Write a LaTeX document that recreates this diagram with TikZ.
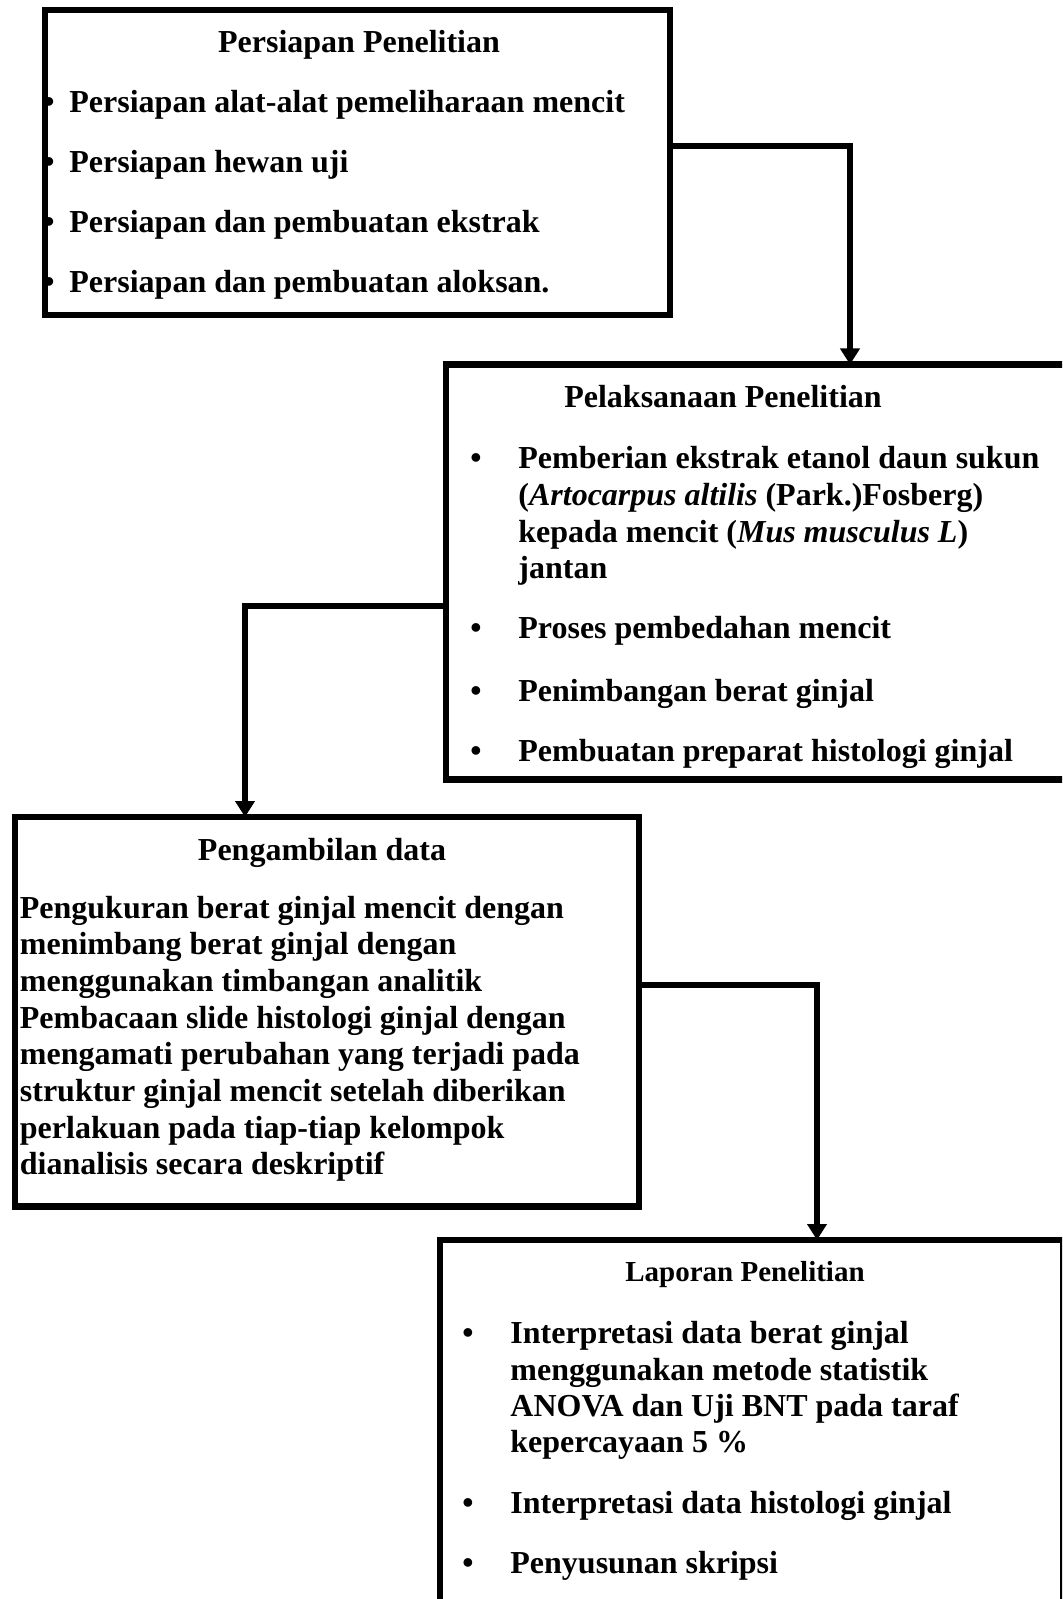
\documentclass[tikz,border=0pt]{standalone}
\usepackage{fontspec}
\setmainfont{Liberation Serif}
\usepackage{tikz}
\usetikzlibrary{arrows.meta, positioning, calc}
\tikzset{>={Triangle[width=9.5pt,length=8pt]}}

\begin{document}
\begin{tikzpicture}[x=0.5pt, y=-0.5pt,
    box/.style={draw, line width=3.25pt, inner sep=0pt, outer sep=0pt, anchor=north west},
    txt/.style={anchor=base west, inner sep=0pt, font=\fontsize{16}{18.4}\selectfont\bfseries},
    ttl/.style={anchor=base, inner sep=0pt, font=\fontsize{16}{18.4}\selectfont\bfseries},
    dot/.style={anchor=base, inner sep=0pt, font=\fontsize{16}{18.4}\selectfont\bfseries},
    link/.style={line width=3pt, ->}]
  \useasboundingbox (0,0) rectangle (1062,1599);
  \clip (0,0) rectangle (1062,1599);

  % Persiapan
  \node[ttl] (prept) at (359,53) {Persiapan Penelitian};
  \foreach \t [count=\i] in {Persiapan alat-alat pemeliharaan mencit, Persiapan hewan uji,
      Persiapan dan pembuatan ekstrak, Persiapan dan pembuatan aloksan.} {
    \node[dot] (pb\i) at (49,53+60*\i) {•};
    \node[txt] (p\i) at (69,53+60*\i) {\t};
  }
  \node[box, minimum width=312.5pt, minimum height=152.5pt] (prep) at (45,10) {};

  % Pelaksanaan
  \node[ttl] (exect) at (723,408) {Pelaksanaan Penelitian};
  \node[dot] (eb1) at (476,468) {•};
  \node[txt] (e1a) at (518,468) {Pemberian ekstrak etanol daun sukun};
  \node[txt] (e1b) at (518,505) {(\textit{Artocarpus altilis} (Park.)Fosberg)};
  \node[txt] (e1c) at (518,542) {kepada mencit (\textit{Mus musculus L})};
  \node[txt] (e1d) at (518,578.5) {jantan};
  \node[dot] (eb2) at (476,638) {•};
  \node[txt] (e2) at (518,638) {Proses pembedahan mencit};
  \node[dot] (eb3) at (476,701) {•};
  \node[txt] (e3) at (518,701) {Penimbangan berat ginjal};
  \node[dot] (eb4) at (476,761) {•};
  \node[txt] (e4) at (518,761) {Pembuatan preparat histologi ginjal};
  \node[box, minimum width=313pt, minimum height=207.5pt] (exec) at (446,364.5) {};

  % Pengambilan data
  \node[ttl] (datat) at (322,860) {Pengambilan data};
  \foreach \t [count=\i] in {Pengukuran berat ginjal mencit dengan, menimbang berat ginjal dengan,
      menggunakan timbangan analitik, Pembacaan slide histologi ginjal dengan,
      mengamati perubahan yang terjadi pada, struktur ginjal mencit setelah diberikan,
      perlakuan pada tiap-tiap kelompok, dianalisis secara deskriptif} {
    \node[txt] (d\i) at (19.5,881.3+36.7*\i) {\t};
  }
  \node[box, minimum width=312pt, minimum height=194.75pt] (data) at (15,817) {};

  % Laporan
  \node[ttl, font=\fontsize{14.5}{16.7}\selectfont\bfseries] (rept) at (745,1281) {Laporan Penelitian};
  \node[dot] (rb1) at (468,1343) {•};
  \node[txt] (r1a) at (510,1343) {Interpretasi data berat ginjal};
  \node[txt] (r1b) at (510,1380) {menggunakan metode statistik};
  \node[txt] (r1c) at (510,1416.5) {ANOVA dan Uji BNT pada taraf};
  \node[txt] (r1d) at (510,1452.5) {kepercayaan 5 \%};
  \node[dot] (rb2) at (468,1513) {•};
  \node[txt] (r2) at (510,1513) {Interpretasi data histologi ginjal};
  \node[dot] (rb3) at (468,1573) {•};
  \node[txt] (r3) at (510,1573) {Penyusunan skripsi};
  \node[box, minimum width=311.75pt, minimum height=230pt] (rep) at (440,1240) {};

  % alur
  \coordinate (c1) at (850,146.5);
  \coordinate (c2) at (245,606);
  \coordinate (c3) at (817,984.5);
  \draw[link] (prep.east |- c1) -- (c1) -- (c1 |- exec.north);
  \draw[link] (exec.west |- c2) -- (c2) -- (c2 |- data.north);
  \draw[link] (data.east |- c3) -- (c3) -- (c3 |- rep.north);
\end{tikzpicture}
\end{document}
